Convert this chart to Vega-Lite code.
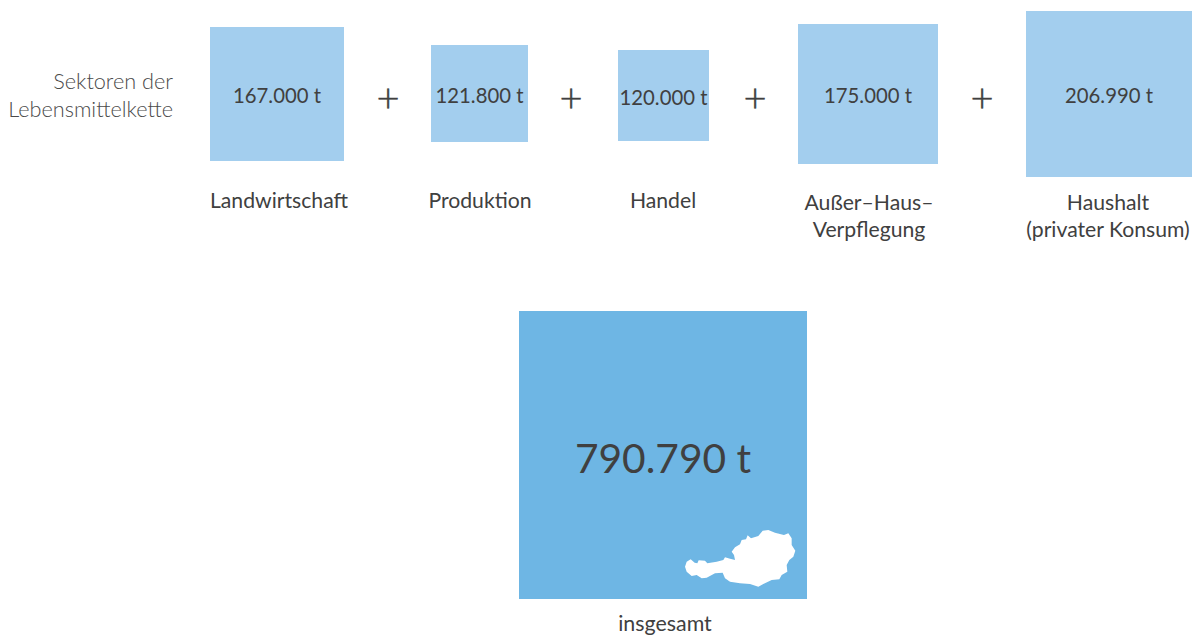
{
"$schema":"https://vega.github.io/schema/vega-lite/v6.json",
"width":1192,"height":635,"padding":0,
"autosize":{"type":"fit","contains":"padding"},
"background":"white",
"config":{"view":{"stroke":null},"text":{"font":"Lato","color":"#404040"}},
"datasets":{
"sektoren":[
{"ordnung":1,"name":"Landwirtschaft","tonnen":167000,"wert":"167.000 t"},
{"ordnung":2,"name":"Produktion","tonnen":121800,"wert":"121.800 t"},
{"ordnung":3,"name":"Handel","tonnen":120000,"wert":"120.000 t"},
{"ordnung":4,"name":"Außer–Haus–\nVerpflegung","tonnen":175000,"wert":"175.000 t"},
{"ordnung":5,"name":"Haushalt\n(privater Konsum)","tonnen":206990,"wert":"206.990 t"}
],
"gesamt":[{"ordnung":6,"name":"insgesamt","tonnen":790790,"wert":"790.790 t"}],
"plus":[{"ordnung":1.5,"zeichen":"+"},{"ordnung":2.5,"zeichen":"+"},{"ordnung":3.5,"zeichen":"+"},{"ordnung":4.5,"zeichen":"+"}],
"titel":[{"ordnung":0,"zeichen":"Sektoren der\nLebensmittelkette"}],
"karte":[{"ordnung":7,"gebiet":"Österreich"}]
},
"encoding":{
"x":{"field":"ordnung","type":"quantitative","axis":null,"scale":{"zero":false,"nice":false,"domain":[0,1,1.5,2,2.5,3,3.5,4,4.5,5,6,7],"range":[173,277,388,479.5,571,663.5,755,868,982,1109,663,740.67]}},
"y":{"field":"ordnung","type":"quantitative","axis":null,"scale":{"zero":false,"nice":false,"domain":[0,1,1.5,2,2.5,3,3.5,4,4.5,5,6,7],"range":[82,94,100,93.5,100,95.5,100,94,100,94,455,554.67]}}
},
"layer":[
{"data":{"name":"sektoren"},"mark":{"type":"point","shape":"square","filled":true,"opacity":1,"color":"#A3CEEE"},
 "encoding":{"size":{"field":"tonnen","type":"quantitative","legend":null,"scale":{"zero":false,"nice":false,"domain":[120000,121800,167000,175000,206990],"range":[8281,9409,17956,19600,27556]}}}},
{"data":{"name":"gesamt"},"mark":{"type":"point","shape":"square","filled":true,"opacity":1,"color":"#6EB6E4","size":82944},"encoding":{}},
{"data":{"name":"karte"},"mark":{"type":"point","filled":true,"opacity":1,"color":"#FFFFFF","size":0.4444,"shape":"M-167,36L-162,21L-150,14L-138,24L-130,26L-126,17L-107,18L-100,26L-72,21L-52,16L-47,8L-32,12L-17,16L-20,1L-27,-9L-17,-22L-2,-31L3,-44L16,-46L21,-58L31,-49L53,-56L66,-72L83,-74L103,-66L130,-59L143,-64L153,-49L153,-29L164,-12L158,6L146,16L138,31L140,51L123,61L116,74L93,76L68,88L53,96L28,88L-2,86L-32,81L-47,71L-54,54L-77,56L-102,69L-117,71L-132,61L-147,64L-162,51Z"},"encoding":{}},
{"data":{"name":"sektoren"},"mark":{"type":"text","fontSize":20.3,"dy":3},"encoding":{"text":{"field":"wert"}}},
{"data":{"name":"gesamt"},"mark":{"type":"text","fontSize":40.7,"dy":6},"encoding":{"text":{"field":"wert"}}},
{"data":{"name":"plus"},"mark":{"type":"text","fontSize":40,"fontWeight":300,"color":"#404040","stroke":"#404040","strokeWidth":0.5},"encoding":{"text":{"field":"zeichen"}}},
{"data":{"name":"titel"},"mark":{"type":"text","fontSize":21.7,"fontWeight":300,"align":"right","lineBreak":"\n","lineHeight":28,"color":"#4a4a4a"},"encoding":{"text":{"field":"zeichen"}}},
{"data":{"name":"sektoren"},"mark":{"type":"text","fontSize":21.2,"lineBreak":"\n","lineHeight":27},
 "encoding":{"text":{"field":"name"},
 "x":{"field":"ordnung","type":"quantitative","axis":null,"scale":{"zero":false,"nice":false,"domain":[1,2,3,4,5],"range":[279,480,663,869,1108]}},
 "y":{"field":"ordnung","type":"quantitative","axis":null,"scale":{"zero":false,"nice":false,"domain":[1,2,3,4,5],"range":[202,202,202,204,204]}}}},
{"data":{"name":"gesamt"},"mark":{"type":"text","fontSize":21.4},
 "encoding":{"text":{"field":"name"},
 "x":{"field":"ordnung","type":"quantitative","axis":null,"scale":{"zero":false,"nice":false,"domain":[6,7],"range":[665,666]}},
 "y":{"field":"ordnung","type":"quantitative","axis":null,"scale":{"zero":false,"nice":false,"domain":[6,7],"range":[625,626]}}}}
],
"resolve":{"scale":{"x":"independent","y":"independent"}}
}
